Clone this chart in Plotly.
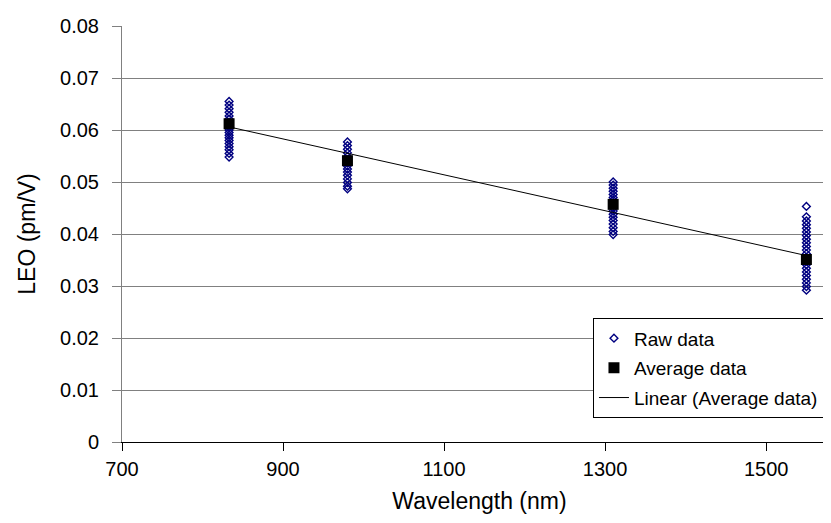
import numpy as np
import plotly.graph_objects as go

# longueurs d'onde (nm) et mesures brutes LEO (pm/V)
wavelengths = [833, 980, 1310, 1550]

raw_833 = [0.0655, 0.0648, 0.0641, 0.0634, 0.0627, 0.0621, 0.0615, 0.0610, 0.0605, 0.0600,
           0.0595, 0.0590, 0.0585, 0.0580, 0.0574, 0.0568, 0.0562, 0.0555, 0.0548]
raw_980 = [0.0577, 0.0570, 0.0563, 0.0556, 0.0549, 0.0543, 0.0537, 0.0531, 0.0525, 0.0519,
           0.0513, 0.0506, 0.0499, 0.0492, 0.0487]
raw_1310 = [0.0500, 0.0494, 0.0488, 0.0482, 0.0476, 0.0470, 0.0465, 0.0460, 0.0455, 0.0450,
            0.0444, 0.0438, 0.0432, 0.0426, 0.0419, 0.0412, 0.0405, 0.0399]
raw_1550 = [0.0453, 0.0433, 0.0425, 0.0418, 0.0411, 0.0404, 0.0397, 0.0390, 0.0383, 0.0376,
            0.0369, 0.0362, 0.0355, 0.0348, 0.0341, 0.0334, 0.0327, 0.0320, 0.0313, 0.0306,
            0.0299, 0.0292]

avg_leo = [0.0612, 0.0541, 0.0457, 0.0351]

x_ticks = [700, 900, 1100, 1300, 1500]
y_ticks = [0, 0.01, 0.02, 0.03, 0.04, 0.05, 0.06, 0.07, 0.08]
grid_levels = [0.01, 0.02, 0.03, 0.04, 0.05, 0.06, 0.07]

# points bruts a plat
raw_x = []
raw_y = []
for wl, vals in zip(wavelengths, [raw_833, raw_980, raw_1310, raw_1550]):
    raw_x += [wl] * len(vals)
    raw_y += vals

# tendance lineaire sur les moyennes
pente, origine = np.polyfit(wavelengths, avg_leo, 1)
trend_x = [wavelengths[0], wavelengths[-1]]
trend_y = [pente * x + origine for x in trend_x]

fig = go.Figure()
fig.add_trace(go.Scatter(x=raw_x, y=raw_y, mode="markers", name="Raw data", legendgroup="a",
                         marker=dict(symbol="diamond-open", size=6, color="#000080",
                                     line=dict(width=1.4, color="#000080"))))
fig.add_trace(go.Scatter(x=wavelengths, y=avg_leo, mode="markers", name="Average data",
                         legendgroup="b",
                         marker=dict(symbol="square", size=11, color="black")))
fig.add_trace(go.Scatter(x=trend_x, y=trend_y, mode="lines",
                         name="Linear (Average data)\u00a0\u00a0", legendgroup="c",
                         line=dict(color="black", width=1)))
# trace invisible pour activer l'axe des grilles
fig.add_trace(go.Scatter(x=[], y=[], yaxis="y2", showlegend=False))

police = dict(family="Liberation Sans, Arial, sans-serif", size=19, color="black")

fig.update_layout(
    width=831, height=523,
    margin=dict(l=114, r=2, t=18, b=89),
    paper_bgcolor="white", plot_bgcolor="white",
    font=police,
    xaxis=dict(range=[700, 1588], tickvals=x_ticks, showgrid=False, zeroline=False,
               showline=True, linecolor="black", linewidth=1,
               ticks="outside", ticklen=8, tickcolor="black", ticklabelstandoff=1,
               tickfont=dict(size=20),
               title=dict(text="Wavelength (nm)", standoff=13)),
    yaxis=dict(range=[0, 0.08], tickvals=y_ticks, showgrid=False, zeroline=False,
               showline=True, linecolor="#808080", linewidth=1,
               ticks="outside", ticklen=9, tickcolor="#808080", ticklabelstandoff=9,
               tickfont=dict(size=20),
               title=dict(text="LEO (pm/V)", standoff=18)),
    yaxis2=dict(range=[0, 0.08], tickvals=grid_levels, overlaying="y",
                showgrid=True, gridcolor="#808080", gridwidth=1,
                showticklabels=False, ticks="", zeroline=False, showline=False),
    legend=dict(x=0.6587, y=0.057, xanchor="left", yanchor="bottom",
                bgcolor="white", bordercolor="black", borderwidth=1,
                font=dict(size=19), tracegroupgap=2, itemwidth=30),
    showlegend=True,
)

fig.write_html("out.html")
